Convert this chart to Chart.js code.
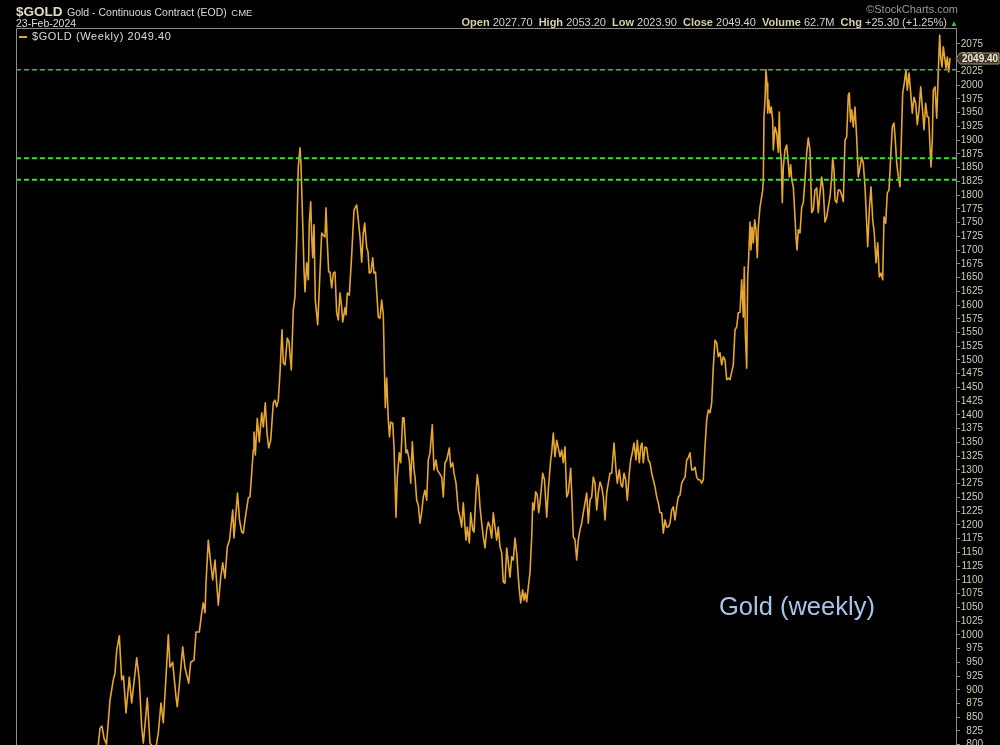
<!DOCTYPE html>
<html><head><meta charset="utf-8">
<script src="https://cdn.jsdelivr.net/npm/chart.js@4.4.1/dist/chart.umd.min.js"></script>
<style>
html,body{margin:0;padding:0;background:#000;}
#wrap{position:relative;width:1000px;height:745px;overflow:hidden;background:#000;font-family:"Liberation Sans",Arial,sans-serif;}
canvas{position:absolute;left:0;top:0;}
.t{position:absolute;white-space:nowrap;line-height:1;}
.lb{font-weight:bold;color:#d6d0a8;}
.vl{color:#d2d2cc;}
</style></head><body>
<div id="wrap">
<canvas id="c" width="1000" height="745"></canvas>
<div class="t" style="left:16px;top:3px;color:#e2dcc4;"><b style="font-size:13.5px;">$GOLD</b> <span style="font-size:10.5px;color:#dcdcd4;">Gold - Continuous Contract (EOD)</span> <span style="font-size:9.5px;color:#dcdcd4;">CME</span></div>
<div class="t" style="left:16px;top:18px;font-size:10.5px;color:#dcdcd4;">23-Feb-2024</div>
<div class="t" style="right:42px;top:4px;font-size:11px;color:#9a9a9a;">&copy;StockCharts.com</div>
<div class="t" style="right:42px;top:17px;font-size:11px;"><span class="lb">Open</span> <span class="vl">2027.70</span>&nbsp; <span class="lb">High</span> <span class="vl">2053.20</span>&nbsp; <span class="lb">Low</span> <span class="vl">2023.90</span>&nbsp; <span class="lb">Close</span> <span class="vl">2049.40</span>&nbsp; <span class="lb">Volume</span> <span class="vl">62.7M</span>&nbsp; <span class="lb">Chg</span> <span class="vl">+25.30 (+1.25%)</span> <span style="color:#33cc33;font-size:8px;">&#9650;</span></div>
<div class="t" style="left:19px;top:31px;font-size:11px;color:#dcdcd4;letter-spacing:0.6px;"><span style="display:inline-block;width:8px;height:2px;background:#e6a630;vertical-align:middle;margin-right:5px;"></span>$GOLD (Weekly) 2049.40</div>
<div class="t" style="left:719px;top:594px;font-size:25.5px;color:#a9c3ea;">Gold (weekly)</div>
</div>
<script>
// x values: weeks since the left edge of the chart window (approx. April 2006)
const weeks = [
80,84,86,88,90.5,94,97.3,99,100.7,103.3,
105.7,107.5,110,113.3,115.7,119,120.7,123.3,125.7,127.3,
129,131.3,134,137,140,142.3,145,147.3,150,152.3,
154,156.7,160,161.3,163.5,166.7,169,172.7,174.7,178,
180,183.3,185.7,187.3,189,190,192.3,194.7,196.7,199,
202.3,204.7,206.7,209,211.3,213.5,216.7,218,221.5,223.5,
225.7,227.3,229,232.3,234,235.7,237.3,238,239.3,241.3,
243.3,245.7,247.3,249.3,251,252.7,254.7,257.3,259,260.7,
262.3,264,266,267.3,269,271.3,273,275.3,277.3,279,
280.7,282.3,284,285,286.7,288,289,290.7,292.3,293.3,
294.7,295.7,296.7,298,299.3,301.7,303.3,305.7,307.3,309,
310,311.3,312.7,314,315.7,317.3,319,320.7,322.3,324,
325.7,326.7,329,330,331.3,333.3,335.7,338,340.7,342.3,
344,345.7,347.3,348.7,350.7,352,353.3,355,356.7,358,
359.5,360.7,362.3,364,365.7,367.3,368.3,369.3,370.7,372.3,
373.5,374.7,376.7,378,380,381.3,383.3,384.7,386.7,388,
390,391.3,393.3,394.7,396.3,398,399,400.7,402.3,404,
405.7,407.3,409,410.7,412.3,414,416.3,418,420,421.3,
423.3,425.7,427.3,429,430.7,433.3,434.7,436.7,438,440,
442.3,444,445.7,447.3,449,450,451.3,453.3,454.7,456.7,
458,460,461.3,462.7,464,465.7,467.3,469,470.7,472.3,
474,475.7,477.3,479,480.7,482.3,484,485.7,487.3,489,
490.7,492.3,494,495.7,497.3,499,500.7,502.3,503.3,504.7,
506.7,508,509.3,510.7,512.3,514,515.7,516.7,518,519.7,
521.3,522.7,524,526.7,528.5,530.7,532.3,534.7,535.7,537.3,
539,540.7,542.3,544,545.7,547.3,549,550.7,552.3,554.7,
555.7,557.3,559,560.7,562.3,564,565.7,567.3,569,570.7,
572.3,574,575.7,577.3,579,580.7,582.3,584,585.7,587.3,
589,590.7,592.3,594,595.7,598,600,601.3,603.3,605,
606.5,608,609.7,611.3,613.3,614.7,616.3,618,620,621.3,
623.3,624.7,626,627.3,629,630.7,632.3,634,635.7,637.3,
639,640.7,642.3,644,645.7,647.3,649,650.7,652.3,654,
655.7,657.3,659,660.7,662.3,664,665.7,667.3,669,670.7,
672.3,674,675.7,677.3,679,680.7,682.3,684,685.7,687.3,
689,690.7,692.3,694,695.7,697.3,699,700.7,702.3,704,
705.7,707.3,709,710.7,712.3,714,715.7,717.3,719,720.7,
722.3,724,725.7,727.3,728.3,729.3,730.7,731.7,732.7,734,
735,736,737.3,738.7,740,741.3,742.3,744,745.7,746.7,
747.3,748,749,750,751,751.7,752.7,754,755.3,756.7,
757.3,759,760.7,762.3,763.3,764.3,765.3,766.3,767.3,769,
770.7,772.3,773.3,774.7,775.7,777.3,779,780,781,782.3,
784,785.7,787.3,789,790.7,792.3,794,795.7,797.3,799,
800.7,802.3,804,805.7,807.3,809,810.7,812.3,814,815.7,
816.7,818,819,820.7,822.3,824,825.7,827.3,829,830.7,
832.3,833.3,834.5,835.7,837.3,839,840.7,842.3,844,845.7,
847.3,849,850.7,851.7,853.3,855,856.7,858.3,860,861.7,
863.3,865,866.7,868,869.7,871.3,873,874.7,876.3,878,
879.3,880.7,882.3,884,885.7,886.7,888.3,890,891.3,893,
894.7,896.3,898,899.7,901.3,903,904.7,906.3,908,909.7,
911.3,912.7,914,915,916.3,917.3,919,920.7,921.7,922.7,
923.7,924.7,926,927.3,928.7,930,931.3,932.7,934
];
// weekly closing prices of gold (USD/oz)
const prices = [
760,830,834,812,801,881,918,930,972,998,
918,925,858,923,876,930,958,918,832,803,
836,885,803,795,795,821,876,840,923,1000,
941,950,887,869,912,978,940,912,950,954,
1005,1005,1040,1058,1040,1094,1172,1131,1100,1136,
1054,1105,1131,1103,1160,1172,1227,1176,1258,1209,
1187,1185,1209,1249,1251,1294,1336,1369,1327,1394,
1351,1404,1378,1422,1367,1340,1354,1422,1427,1415,
1427,1476,1555,1495,1491,1540,1533,1482,1591,1615,
1718,1851,1886,1855,1749,1664,1624,1677,1646,1749,
1788,1724,1686,1746,1609,1564,1631,1731,1727,1724,
1777,1713,1660,1660,1631,1658,1660,1586,1573,1622,
1595,1569,1595,1582,1622,1618,1691,1773,1782,1755,
1724,1678,1731,1749,1704,1697,1658,1660,1686,1658,
1660,1624,1578,1576,1609,1582,1496,1413,1467,1391,
1360,1387,1385,1342,1214,1287,1331,1313,1395,1395,
1331,1336,1318,1276,1351,1300,1287,1245,1236,1203,
1223,1251,1263,1245,1318,1331,1382,1300,1318,1300,
1294,1287,1251,1313,1318,1340,1305,1313,1294,1276,
1227,1214,1196,1240,1196,1172,1196,1167,1222,1191,
1187,1258,1291,1269,1233,1203,1178,1158,1191,1205,
1196,1176,1222,1196,1172,1196,1160,1149,1096,1094,
1158,1131,1105,1142,1136,1176,1149,1105,1082,1058,
1082,1063,1076,1060,1087,1113,1178,1240,1227,1260,
1254,1222,1240,1294,1282,1214,1264,1318,1331,1367,
1324,1354,1340,1324,1336,1313,1342,1251,1258,1303,
1258,1178,1173,1136,1173,1191,1203,1222,1240,1258,
1203,1245,1251,1287,1276,1227,1258,1278,1269,1251,
1209,1258,1276,1294,1294,1349,1300,1276,1300,1273,
1269,1294,1282,1245,1294,1318,1331,1349,1318,1354,
1313,1342,1349,1313,1342,1340,1318,1313,1294,1282,
1269,1251,1240,1222,1222,1185,1209,1196,1196,1203,
1227,1233,1209,1233,1251,1254,1276,1282,1287,1318,
1322,1331,1300,1300,1305,1287,1282,1282,1276,1282,
1342,1391,1409,1404,1422,1487,1536,1531,1506,1513,
1491,1506,1500,1464,1467,1464,1478,1491,1555,1560,
1586,1587,1646,1578,1669,1549,1485,1651,1687,1751,
1700,1742,1713,1755,1737,1686,1742,1778,1797,1809,
1828,1942,1973,2028,2004,1949,1973,1949,1960,1937,
1882,1924,1913,1878,1951,1882,1864,1786,1851,1882,
1891,1858,1833,1855,1828,1815,1760,1724,1700,1737,
1731,1778,1786,1828,1877,1904,1882,1768,1773,1809,
1813,1768,1804,1833,1809,1751,1760,1778,1797,1833,
1868,1846,1791,1786,1809,1809,1800,1788,1900,1906,
1982,1986,1933,1955,1924,1960,1904,1833,1851,1869,
1858,1815,1749,1706,1773,1815,1755,1731,1677,1713,
1651,1658,1646,1760,1749,1804,1809,1869,1924,1931,
1900,1858,1833,1815,1924,1986,2004,2028,1991,2022,
1986,1949,1978,1967,1928,1955,1997,1960,1919,1967,
1942,1942,1888,1851,1900,1991,1997,1940,1991,2046,
2091,2051,2033,2070,2050,2031,2051,2024,2049.4
];
// horizontal reference levels (green dashed lines)
const levelValues = [2028, 1867, 1828];
const levelColors = ['#46b83a', '#2ee22e', '#2ee22e'];
// right axis: tick labels every 25
const yTickFirst = 800, yTickLast = 2075, yTickStep = 25;
const yMin = 799.5, yMax = 2104;
const xMin = 0, xMax = 940;

const tickValues = [];
for (let v = yTickFirst; v <= yTickLast; v += yTickStep) tickValues.push(v);

const goldData = weeks.map((w, i) => ({x: w, y: prices[i]}));
const levelDatasets = levelValues.map((lv, i) => ({
  data: [{x: xMin, y: lv}, {x: xMax, y: lv}],
  borderColor: levelColors[i], borderWidth: i === 0 ? 1.6 : 2, borderDash: [5, 3],
  pointRadius: 0, fill: false, tension: 0
}));

const framePlugin = {
  id: 'frame',
  afterDatasetsDraw(chart) {
    const {ctx, chartArea: a} = chart;
    ctx.save();
    ctx.strokeStyle = '#8c8c8c'; ctx.lineWidth = 1;
    ctx.beginPath();
    ctx.moveTo(a.left + 0.5, a.bottom); ctx.lineTo(a.left + 0.5, a.top + 0.5); ctx.lineTo(a.right, a.top + 0.5);
    ctx.stroke();
    ctx.restore();
  },
  afterDraw(chart) {
    const {ctx, chartArea: a, scales: {y}} = chart;
    const last = prices[prices.length - 1];
    const py = Math.round(y.getPixelForValue(last)) + 0.5;
    ctx.save();
    ctx.beginPath();
    ctx.moveTo(a.right, py);
    ctx.lineTo(a.right + 4, py - 5.5);
    ctx.lineTo(999, py - 5.5);
    ctx.lineTo(999, py + 5.5);
    ctx.lineTo(a.right + 4, py + 5.5);
    ctx.closePath();
    ctx.fillStyle = '#3a3524'; ctx.fill();
    ctx.strokeStyle = '#a8996c'; ctx.lineWidth = 1; ctx.stroke();
    ctx.fillStyle = '#eeead6';
    ctx.font = 'bold 10px "Liberation Sans", Arial, sans-serif';
    ctx.textBaseline = 'middle'; ctx.textAlign = 'left';
    ctx.fillText(last.toFixed(2), a.right + 6, py + 0.5);
    ctx.restore();
  }
};

new Chart(document.getElementById('c'), {
  type: 'line',
  data: {
    datasets: [
      ...levelDatasets,
      {data: goldData, borderColor: '#e6a630', borderWidth: 1.6, pointRadius: 0, fill: false, tension: 0, borderJoinStyle: 'round'}
    ]
  },
  options: {
    responsive: false, animation: false, events: [],
    layout: {padding: {left: 16, top: 28, right: 17, bottom: 0}},
    plugins: {legend: {display: false}, tooltip: {enabled: false}},
    scales: {
      x: {type: 'linear', min: xMin, max: xMax, display: false},
      y: {
        type: 'linear', position: 'right', min: yMin, max: yMax,
        afterBuildTicks: s => { s.ticks = tickValues.map(v => ({value: v})); },
        afterFit: s => { s.width = 27; s.paddingTop = 0; s.paddingBottom = 0; },
        border: {display: true, color: '#8c8c8c', width: 1},
        grid: {drawOnChartArea: false, drawTicks: true, tickLength: 4, color: '#8c8c8c'},
        ticks: {autoSkip: false, crossAlign: 'far', padding: 1, color: '#d0ccb6', font: {family: '"Liberation Sans", Arial, sans-serif', size: 10}, callback: v => String(v)}
      }
    }
  },
  plugins: [framePlugin]
});
</script>
</body></html>
